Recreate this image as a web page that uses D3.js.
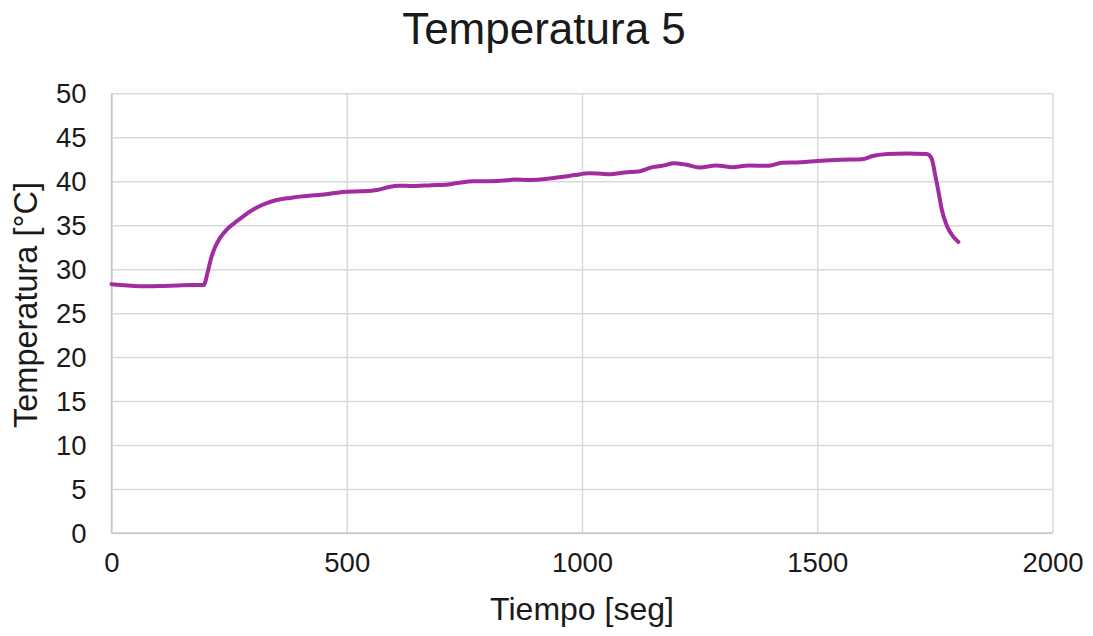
<!DOCTYPE html>
<html>
<head>
<meta charset="utf-8">
<script src="https://cdn.jsdelivr.net/npm/d3@7"></script>
<style>
  html, body { margin: 0; padding: 0; background: #ffffff; }
  svg { display: block; font-family: "Liberation Sans", Arial, sans-serif; }
</style>
</head>
<body>
<svg id="chart" width="1093" height="636"></svg>
<script>
// Temperature probe 5 readings: time in seconds, temperature in °C
const tiempo = [0, 20, 50, 80, 110, 140, 170, 196, 205, 212, 220, 230, 245, 260, 275, 290, 305, 320, 340, 360,
  380, 400, 430, 460, 480, 500, 530, 565, 590, 610, 640, 680, 710, 735, 770, 800, 840, 855, 890, 930,
  960, 985, 1015, 1040, 1060, 1090, 1120, 1150, 1175, 1195, 1220, 1250, 1285, 1320, 1355, 1395, 1425, 1465, 1500, 1550,
  1595, 1620, 1650, 1690, 1733, 1743, 1750, 1757, 1765, 1775, 1789, 1800];
const temperatura = [28.3, 28.2, 28.1, 28.05, 28.1, 28.15, 28.2, 28.2, 29.8, 31.3, 32.5, 33.5, 34.5, 35.2, 35.8, 36.4, 36.9, 37.3, 37.7, 37.95,
  38.1, 38.25, 38.4, 38.55, 38.7, 38.8, 38.85, 39.0, 39.35, 39.5, 39.45, 39.55, 39.6, 39.8, 40.0, 40.0, 40.1, 40.2, 40.15, 40.3,
  40.5, 40.7, 40.9, 40.85, 40.8, 41.0, 41.1, 41.6, 41.8, 42.05, 41.9, 41.55, 41.8, 41.6, 41.8, 41.75, 42.1, 42.15, 42.3, 42.45,
  42.5, 42.9, 43.1, 43.15, 43.1, 42.6, 40.9, 39.0, 36.7, 35.0, 33.7, 33.1];

const xTicks = [0, 500, 1000, 1500, 2000];
const yTicks = [0, 5, 10, 15, 20, 25, 30, 35, 40, 45, 50];

const titulo = "Temperatura 5";
const tituloX = "Tiempo [seg]";
const tituloY = "Temperatura [°C]";

const svg = d3.select("#chart");
const plot = { left: 111.5, right: 1052.5, top: 93.3, bottom: 533 };

const x = d3.scaleLinear().domain([0, 2000]).range([plot.left, plot.right]);
const y = d3.scaleLinear().domain([0, 50]).range([plot.bottom, plot.top]);

const gridColor = "#d9d9d9";
const textColor = "#1a1a1a";

// Horizontal gridlines with value labels
const yAxis = d3.axisLeft(y).tickValues(yTicks).tickSize(-(plot.right - plot.left)).tickPadding(25).tickFormat(d3.format("d"));
const gy = svg.append("g").attr("transform", `translate(${plot.left},0)`).call(yAxis);
gy.select(".domain").remove();
gy.selectAll(".tick line").attr("stroke", gridColor).attr("stroke-width", 1.5);
gy.selectAll(".tick text").attr("fill", textColor).style("font-size", "27.5px").attr("dy", "0.35em");

// Vertical gridlines with time labels
const xAxis = d3.axisBottom(x).tickValues(xTicks).tickSize(-(plot.bottom - plot.top)).tickPadding(19).tickFormat(d3.format("d"));
const gx = svg.append("g").attr("transform", `translate(0,${plot.bottom})`).call(xAxis);
gx.select(".domain").remove();
gx.selectAll(".tick line").attr("stroke", gridColor).attr("stroke-width", 1.5);
gx.selectAll(".tick text").attr("fill", textColor).style("font-size", "27.5px").attr("dy", "0.71em");

// Axis baselines
svg.append("line").attr("x1", plot.left).attr("x2", plot.right).attr("y1", plot.bottom).attr("y2", plot.bottom)
  .attr("stroke", "#c8c8c8").attr("stroke-width", 1.5);
svg.append("line").attr("x1", plot.left).attr("x2", plot.left).attr("y1", plot.top).attr("y2", plot.bottom)
  .attr("stroke", "#c8c8c8").attr("stroke-width", 1.5);

// Temperature curve
const datos = tiempo.map((t, i) => ({ t, v: temperatura[i] }));
const linea = d3.line().x(d => x(d.t)).y(d => y(d.v)).curve(d3.curveMonotoneX);
svg.append("path").datum(datos).attr("d", linea)
  .attr("fill", "none").attr("stroke", "#a02ca0").attr("stroke-width", 4)
  .attr("stroke-linejoin", "round").attr("stroke-linecap", "round");

// Titles
svg.append("text").attr("x", 544).attr("y", 44).attr("text-anchor", "middle")
  .attr("fill", textColor).style("font-size", "44px").text(titulo);
svg.append("text").attr("x", (plot.left + plot.right) / 2).attr("y", 620).attr("text-anchor", "middle")
  .attr("fill", textColor).style("font-size", "32px").text(tituloX);
svg.append("text").attr("transform", `translate(37,305) rotate(-90)`).attr("text-anchor", "middle")
  .attr("fill", textColor).style("font-size", "32.5px").text(tituloY);
</script>
</body>
</html>
